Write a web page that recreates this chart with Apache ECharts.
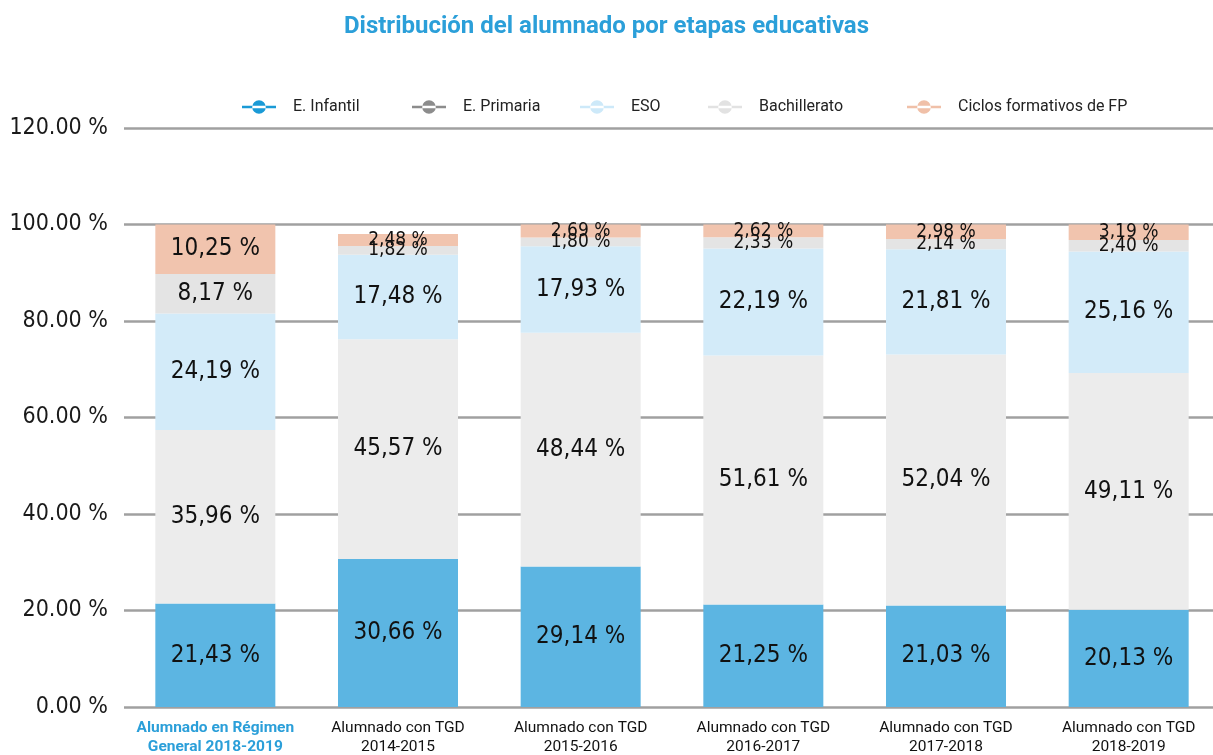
<!DOCTYPE html>
<html><head><meta charset="utf-8">
<script src="https://cdn.jsdelivr.net/npm/echarts@6/dist/echarts.min.js"></script>
<style>html,body{margin:0;padding:0;background:#fff}#c{width:1213px;height:755px}</style>
</head><body><div id="c"></div>
<script>
const categories = ['Alumnado en Régimen\nGeneral 2018-2019','Alumnado con TGD\n2014-2015','Alumnado con TGD\n2015-2016','Alumnado con TGD\n2016-2017','Alumnado con TGD\n2017-2018','Alumnado con TGD\n2018-2019'];
const seriesNames = ['E. Infantil','E. Primaria','ESO','Bachillerato','Ciclos formativos de FP'];
const infantil = [21.43,30.66,29.14,21.25,21.03,20.13];
const primaria = [35.96,45.57,48.44,51.61,52.04,49.11];
const eso = [24.19,17.48,17.93,22.19,21.81,25.16];
const bachillerato = [8.17,1.82,1.80,2.33,2.14,2.40];
const ciclos = [10.25,2.48,2.69,2.62,2.98,3.19];
const yTicks = [0,20,40,60,80,100,120];

const barColors = ['#5cb5e2','#ececec','#d3ebf9','#e4e4e4','#f1c4ae'];
const legendColors = ['#1a9ad6','#8c8c8c','#cde9f9','#e2e2e2','#f0c0a8'];
const legendLefts = [237,407,575,703,902];
const allData = [infantil,primaria,eso,bachillerato,ciclos];
const handFont = '"DejaVu Sans Condensed","Liberation Sans Narrow",sans-serif';
const legendIcon = 'path://M0,9h30v2h-30z M9,10a6,6 0 1,0 12,0a6,6 0 1,0 -12,0z';

const chart = echarts.init(document.getElementById('c'), null, {renderer:'canvas'});
chart.setOption({
  animation:false,
  backgroundColor:'#fff',
  title:{text:'Distribución del alumnado por etapas educativas',left:'center',top:10,
    textStyle:{color:'#2b9fd9',fontSize:24,fontWeight:'bold',fontFamily:'Roboto, sans-serif'}},
  legend:seriesNames.map((n,i)=>({top:94,left:legendLefts[i],itemWidth:34,itemHeight:16,selectedMode:false,
    textStyle:{fontSize:16,color:'#222',fontFamily:'Roboto, sans-serif',padding:[0,0,0,12]},
    data:[{name:n,icon:legendIcon,itemStyle:{color:legendColors[i]}}]})),
  grid:{left:124,right:-7,top:128,bottom:48,outerBoundsMode:'none',containLabel:false},
  xAxis:{type:'category',data:categories,
    axisLine:{show:false},axisTick:{show:false},
    axisLabel:{interval:0,margin:12,fontSize:15.5,lineHeight:19,fontFamily:'Roboto, sans-serif',color:'#111',
      formatter:(v,i)=> i===0 ? '{hl|'+v.split('\n').join('}\n{hl|')+'}' : v,
      rich:{hl:{color:'#2b9fd9',fontWeight:'bold',fontSize:15.5,fontFamily:'Roboto, sans-serif',lineHeight:19}}}},
  yAxis:{type:'value',min:0,max:120,interval:20,
    axisLine:{show:false},axisTick:{show:false},
    axisLabel:{margin:16,fontSize:23,color:'#1a1a1a',fontFamily:handFont,
      formatter:v=>v.toFixed(2)+' %'},
    splitLine:{lineStyle:{color:'#a0a0a0',width:2.5}}},
  series: allData.map((d,i)=>({
    name:seriesNames[i],type:'bar',stack:'total',barWidth:120,
    itemStyle:{color:barColors[i]},
    data:d.map(v=>({value:v,label:{fontSize: v<5?19:24, lineHeight: v<5?18:30}})),
    label:{show:true,position:'inside',color:'#111',fontFamily:handFont,
      formatter:p=>p.value.toFixed(2).replace('.',',')+' %'},
    z:2
  }))
});
</script></body></html>
